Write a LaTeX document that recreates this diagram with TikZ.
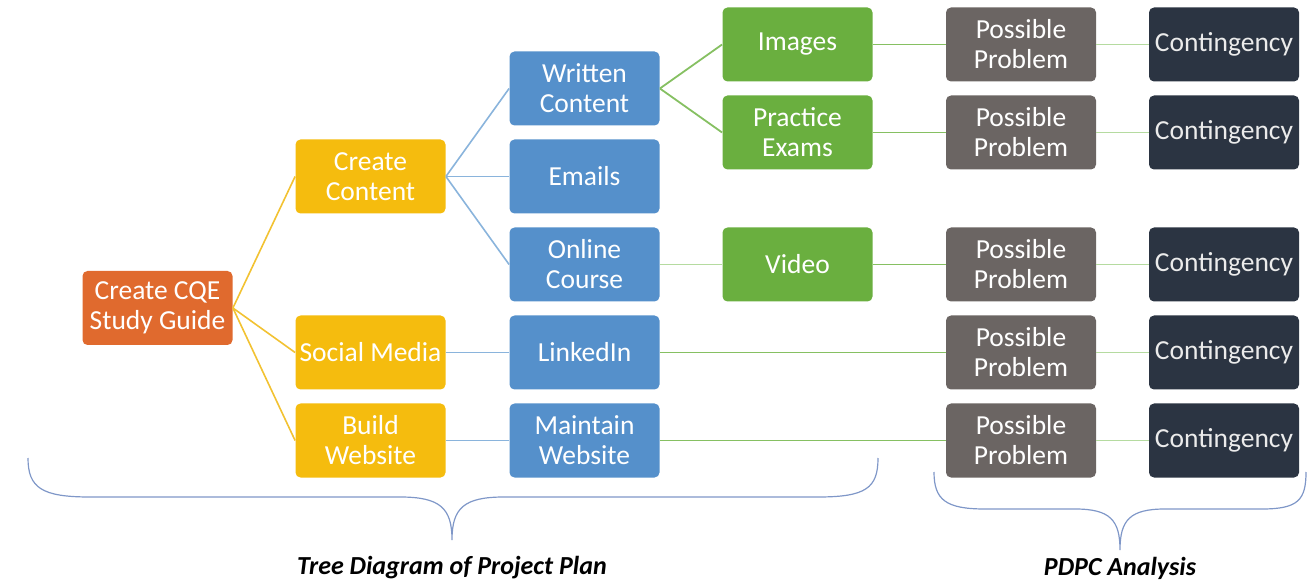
\documentclass[tikz,border=0pt]{standalone}
\usepackage{fontspec}
\setmainfont{Carlito}
\definecolor{cOrange}{HTML}{E06A2E}
\definecolor{cYellow}{HTML}{F5BC0E}
\definecolor{cBlue}{HTML}{5590CB}
\definecolor{cGreen}{HTML}{6AAF3F}
\definecolor{cGray}{HTML}{6B6563}
\definecolor{cDark}{HTML}{2B3442}
\definecolor{lYellow}{HTML}{F2C232}
\definecolor{lBlue}{HTML}{8AB4DC}
\definecolor{lGreen}{HTML}{86C062}
\definecolor{lGreenL}{HTML}{B5DBA0}
\definecolor{cBrace}{HTML}{7F97C8}
\tikzset{
  box/.style={rounded corners=2.5pt, inner sep=0pt, minimum width=75pt, minimum height=37pt,
    align=center, text=white, font=\fontsize{13.75}{15}\selectfont},
  rootbox/.style={box, fill=cOrange},
  ybox/.style={box, fill=cYellow},
  bbox/.style={box, fill=cBlue},
  gbox/.style={box, fill=cGreen},
  pbox/.style={box, fill=cGray},
  dbox/.style={box, fill=cDark, text=white!92!black},
  yline/.style={draw=lYellow, line width=0.8pt},
  bline/.style={draw=lBlue, line width=0.8pt},
  gline/.style={draw=lGreen, line width=0.9pt},
  glline/.style={draw=lGreenL, line width=0.9pt},
  brace/.style={draw=cBrace, line width=0.6pt},
  caption/.style={font=\fontsize{13}{15}\selectfont\bfseries\itshape, text=black},
}
\begin{document}
\begin{tikzpicture}[x=0.5pt,y=-0.5pt]
\useasboundingbox (0,0) rectangle (1311,587);
% nodes
\node[rootbox] (root) at (157.5,308) {Create CQE\\Study Guide};
\node[ybox] (cc) at (370.5,176.5) {Create\\Content};
\node[ybox] (sm) at (370.5,352.5) {Social Media};
\node[ybox] (bw) at (370.5,440.5) {Build\\Website};
\node[bbox] (wc) at (584.5,88.5) {Written\\Content};
\node[bbox] (em) at (584.5,176.5) {Emails};
\node[bbox] (oc) at (584.5,264.5) {Online\\Course};
\node[bbox] (li) at (584.5,352.5) {LinkedIn};
\node[bbox] (mw) at (584.5,440.5) {Maintain\\Website};
\node[gbox] (im) at (797.5,44.5) {Images};
\node[gbox] (pe) at (797.5,132.5) {Practice\\Exams};
\node[gbox] (vi) at (797.5,264.5) {Video};
\foreach \i/\y in {1/44.5,2/132.5,3/264.5,4/352.5,5/440.5}{
  \node[pbox] (p\i) at (1021,\y) {Possible\\Problem};
  \node[dbox] (d\i) at (1224,\y) {Contingency};
}
% connectors
\draw[yline] (root.east) -- (cc.west);
\draw[yline] (root.east) -- (sm.west);
\draw[yline] (root.east) -- (bw.west);
\draw[bline] (cc.east) -- (wc.west);
\draw[bline] (cc.east) -- (em.west);
\draw[bline] (cc.east) -- (oc.west);
\draw[bline] (sm.east) -- (li.west);
\draw[bline] (bw.east) -- (mw.west);
\draw[gline] (wc.east) -- (im.west);
\draw[gline] (wc.east) -- (pe.west);
\draw[glline] (oc.east) -- (vi.west);
\draw[gline] (im.east) -- (p1.west);
\draw[gline] (pe.east) -- (p2.west);
\draw[gline] (vi.east) -- (p3.west);
\draw[gline] (li.east) -- (p4.west);
\draw[gline] (mw.east) -- (p5.west);
\foreach \i in {1,...,5}{\draw[glline] (p\i.east) -- (d\i.west);}
% braces
\draw[brace] (28,458) .. controls (28,488) and (42,497) .. (90,497) -- (400,497)
  .. controls (440,497) and (452,508) .. (452,540)
  .. controls (452,508) and (464,497) .. (504,497) -- (818,497)
  .. controls (866,497) and (878,488) .. (878,458);
\draw[brace] (934,472) .. controls (934,500) and (946,509) .. (985,509) -- (1075,509)
  .. controls (1110,509) and (1120,520) .. (1120,550)
  .. controls (1120,520) and (1130,509) .. (1165,509) -- (1262,509)
  .. controls (1298,509) and (1306,500) .. (1306,472);
\node[caption] (t1) at (452,568) {Tree Diagram of Project Plan};
\node[caption] (t2) at (1120,568) {PDPC Analysis};
\end{tikzpicture}
\end{document}
